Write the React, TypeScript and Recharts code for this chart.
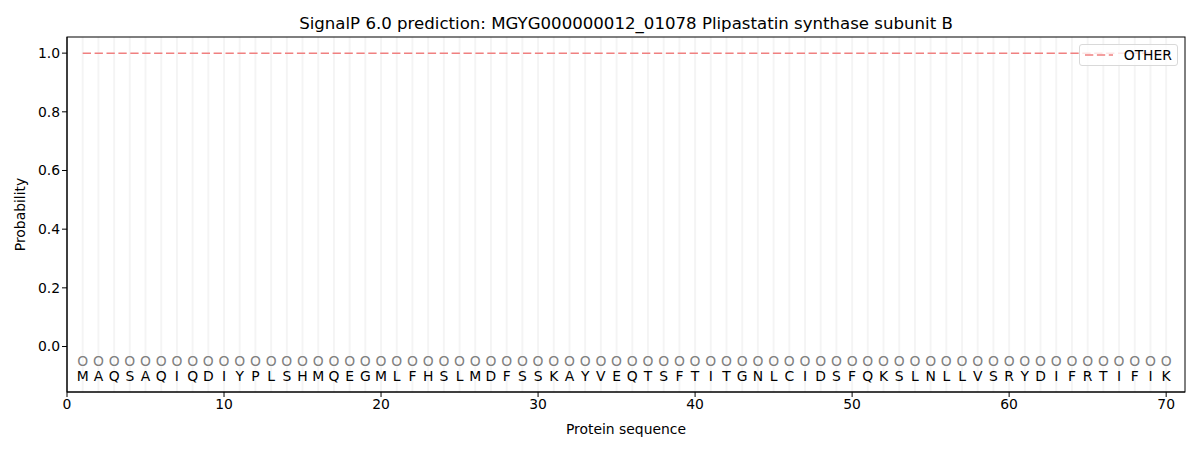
import React from "react";
import {
  ComposedChart,
  Line,
  Scatter,
  XAxis,
  YAxis,
  ReferenceLine,
} from "recharts";

const title = "SignalP 6.0 prediction: MGYG000000012_01078 Plipastatin synthase subunit B";
const sequence = "MAQSAQIQDIYPLSHMQEGMLFHSLMDFSSKAYVEQTSFTITGNLCIDSFQKSLNLLVSRYDIFRTIFIK".split("");
const positions = sequence.map((_, i) => i + 1);
const otherProb = positions.map(() => 1.0);
const predLabels = positions.map(() => "O");
const legendLabels = ["OTHER"];
const xTicks = [0, 10, 20, 30, 40, 50, 60, 70];
const yTicks = [0, 0.2, 0.4, 0.6, 0.8, 1.0];
const circleY = -0.05;
const letterY = -0.1;

const lineData = positions.map((p, i) => ({ x: p, other: otherProb[i] }));
const circleData = positions.map((p, i) => ({ x: p, y: circleY, t: predLabels[i] }));
const letterData = positions.map((p, i) => ({ x: p, y: letterY, t: sequence[i] }));

const FONT = "DejaVu Sans, sans-serif";
const FS = 13.9;

const TextShape = (color: string) => (props: any) => {
  const { cx, cy, payload } = props;
  return (
    <text
      x={cx}
      y={cy}
      textAnchor="middle"
      dominantBaseline="central"
      fontSize={FS}
      fontFamily={FONT}
      fill={color}
    >
      {payload.t}
    </text>
  );
};

const LegendBox = () => (
  <div
    style={{
      position: "absolute",
      top: 44,
      right: 22,
      border: "1px solid #d9d9d9",
      borderRadius: 3,
      background: "rgba(255,255,255,0.8)",
      padding: "2px 5px 2px 5px",
      display: "flex",
      alignItems: "center",
      fontFamily: FONT,
      fontSize: FS,
      color: "#000",
    }}
  >
    <svg width={28} height={10} style={{ marginRight: 11 }}>
      <line x1={0} y1={5} x2={28} y2={5} stroke="#f08080" strokeWidth={1.5} strokeDasharray="8.3 3.6" />
    </svg>
    <span>{legendLabels[0]}</span>
  </div>
);

export default function App() {
  return (
    <div style={{ position: "absolute", left: 0, top: 0, width: 1200, height: 450, background: "#fff" }}>
      <ComposedChart
        width={1200}
        height={450}
        margin={{ top: 37, right: 15, bottom: 0, left: 0 }}
      >
        <text x={626} y={23} textAnchor="middle" dominantBaseline="central" fontSize={16.6} fontFamily={FONT} fill="#000">
          {title}
        </text>
        {positions.map((p) => (
          <ReferenceLine key={p} x={p} stroke="#000" strokeOpacity={0.045} strokeWidth={2} />
        ))}
        <XAxis
          type="number"
          dataKey="x"
          domain={[0, 71.2]}
          ticks={xTicks}
          interval={0}
          allowDataOverflow
          height={58}
          stroke="#000"
          tickLine={{ stroke: "#000" }}
          tickSize={5}
          tick={{ fill: "#000", fontSize: FS, fontFamily: FONT }}
          label={{ value: "Protein sequence", position: "insideBottom", offset: 16, fill: "#000", fontSize: FS, fontFamily: FONT }}
        />
        <YAxis
          type="number"
          domain={[-0.155, 1.055]}
          ticks={yTicks}
          interval={0}
          allowDataOverflow
          width={67}
          stroke="#000"
          tickSize={5}
          tickFormatter={(v: number) => v.toFixed(1)}
          tick={{ fill: "#000", fontSize: FS, fontFamily: FONT }}
          label={{ value: "Probability", angle: -90, position: "insideLeft", offset: 20, fill: "#000", fontSize: FS, fontFamily: FONT, style: { textAnchor: "middle" } }}
        />
        <Line
          data={lineData}
          dataKey="other"
          type="linear"
          stroke="#f08080"
          strokeWidth={1.5}
          strokeDasharray="8.3 3.6"
          dot={false}
          activeDot={false}
          isAnimationActive={false}
          name="OTHER"
        />
        <Scatter data={circleData} dataKey="y" shape={TextShape("#808080")} isAnimationActive={false} legendType="none" />
        <Scatter data={letterData} dataKey="y" shape={TextShape("#000")} isAnimationActive={false} legendType="none" />
        <rect x={67} y={37} width={1118} height={355} fill="none" stroke="#000" strokeWidth={1} />
      </ComposedChart>
      <LegendBox />
    </div>
  );
}
